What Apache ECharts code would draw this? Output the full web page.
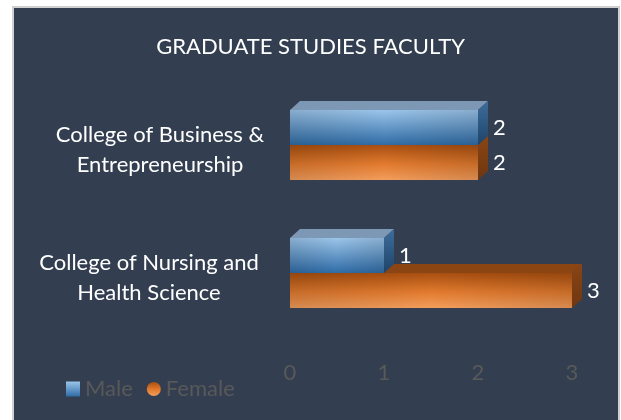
<!DOCTYPE html>
<html>
<head>
<meta charset="utf-8">
<style>
html, body { margin: 0; padding: 0; background: #ffffff; }
#chart { width: 621px; height: 420px; }
</style>
<script src="https://cdn.jsdelivr.net/npm/echarts@6/dist/echarts.min.js"></script>
</head>
<body>
<div id="chart"></div>
<script>
// data
var categories = ['College of Business &\nEntrepreneurship', 'College of Nursing and\nHealth Science'];
var maleValues = [2, 1];
var femaleValues = [2, 3];
var xTicks = [0, 1, 2, 3];

var BAR_H = 35, DX = 10, DY = 9;

function maleFront() {
	return new echarts.graphic.LinearGradient(0, 0, 0, 1, [
		{ offset: 0, color: '#9cc5ea' },
		{ offset: 1, color: '#2f6ca6' }
	]);
}
function femaleFront() {
	return new echarts.graphic.LinearGradient(0, 0, 0, 1, [
		{ offset: 0, color: '#a94f10' },
		{ offset: 0.55, color: '#e27b2f' },
		{ offset: 1, color: '#f39d5c' }
	]);
}

function makeRender(isMale) {
	return function (params, api) {
		var val = api.value(0);
		var cat = api.value(1);
		var base = api.coord([0, cat]);
		var end = api.coord([val, cat]);
		var y0 = isMale ? base[1] - BAR_H : base[1];
		var y1 = y0 + BAR_H;
		var x0 = base[0], x1 = end[0];
		var children = [
			{ // top face
				type: 'polygon',
				shape: { points: [[x0, y0], [x0 + DX, y0 - DY], [x1 + DX, y0 - DY], [x1, y0]] },
				style: { fill: isMale ? '#7d98b4' : '#8a4513' }
			},
			{ // side face
				type: 'polygon',
				shape: { points: [[x1, y0], [x1 + DX, y0 - DY], [x1 + DX, y1 - DY], [x1, y1]] },
				style: { fill: new echarts.graphic.LinearGradient(0, 0, 0, 1, isMale ? [
					{ offset: 0, color: '#3d6d9c' }, { offset: 1, color: '#1f4468' }
				] : [
					{ offset: 0, color: '#8a4514' }, { offset: 1, color: '#6e3610' }
				]) }
			},
			{ // front face
				type: 'rect',
				shape: { x: x0, y: y0, width: x1 - x0, height: BAR_H },
				style: { fill: isMale ? maleFront() : femaleFront() }
			},
			{ // darker ends of the front face
				type: 'rect',
				shape: { x: x0, y: y0, width: x1 - x0, height: BAR_H },
				style: { fill: new echarts.graphic.LinearGradient(0, 0, 1, 0, [
					{ offset: 0, color: 'rgba(0,0,0,0.12)' },
					{ offset: 0.5, color: 'rgba(0,0,0,0)' },
					{ offset: 1, color: 'rgba(0,0,0,0.12)' }
				]) }
			},
			{ // value label
				type: 'text',
				style: {
					x: x1 + DX + 5, y: (y0 + y1) / 2,
					text: String(val),
					fill: '#ffffff',
					font: '22px Lato',
					verticalAlign: 'middle',
					align: 'left'
				}
			}
		];
		return { type: 'group', children: children };
	};
}

function toData(vals) {
	var d = [];
	for (var i = 0; i < vals.length; i++) d.push([vals[i], i]);
	return d;
}

var myChart = echarts.init(document.getElementById('chart'));
var option = {
	backgroundColor: '#ffffff',
	animation: false,
	graphic: [{
		type: 'rect',
		z: -10,
		shape: { x: 13, y: 7, width: 606, height: 416 },
		style: { fill: '#333f50', stroke: '#d0d0d0', lineWidth: 2 }
	}],
	title: {
		text: 'GRADUATE STUDIES FACULTY',
		left: 'center',
		top: 31,
		textStyle: { color: '#ffffff', fontSize: 22, fontWeight: 'normal', fontFamily: 'Lato' }
	},
	legend: {
		left: 61,
		top: 373,
		itemWidth: 14,
		itemHeight: 15,
		itemGap: 14,
		textStyle: { color: '#595959', fontSize: 22, fontFamily: 'Lato' },
		data: [
			{ name: 'Male', icon: 'rect' },
			{ name: 'Female', icon: 'circle' }
		]
	},
	grid: { left: 290, right: 49, top: 81, bottom: 83 },
	xAxis: {
		type: 'value',
		min: 0,
		max: 3,
		interval: 1,
		axisLine: { show: false },
		axisTick: { show: false },
		splitLine: { show: false },
		axisLabel: {
			color: '#595959',
			fontSize: 22,
			fontFamily: 'Lato',
			margin: 25,
			formatter: function (v) { return xTicks.indexOf(v) >= 0 ? String(v) : ''; }
		}
	},
	yAxis: {
		type: 'category',
		inverse: true,
		data: categories,
		axisLine: { show: false },
		axisTick: { show: false },
		axisLabel: {
			color: '#ffffff',
			fontSize: 22,
			fontFamily: 'Lato',
			lineHeight: 30,
			align: 'center',
			padding: [10, 0, 0, 0],
			margin: 130,
			formatter: function (v, i) {
				var tag = i === 1 ? 'b' : 'a';
				return v.split('\n').map(function (s) { return '{' + tag + '|' + s + '}'; }).join('\n');
			},
			rich: {
				a: { color: '#ffffff', fontSize: 22, fontFamily: 'Lato', lineHeight: 30 },
				b: { color: '#ffffff', fontSize: 22, fontFamily: 'Lato', lineHeight: 30, padding: [0, 22, 0, 0] }
			}
		}
	},
	series: [
		{
			name: 'Female',
			type: 'custom',
			renderItem: makeRender(false),
			encode: { x: 0, y: 1 },
			itemStyle: { color: femaleFront() },
			data: toData(femaleValues),
			z: 2
		},
		{
			name: 'Male',
			type: 'custom',
			renderItem: makeRender(true),
			encode: { x: 0, y: 1 },
			itemStyle: { color: maleFront() },
			data: toData(maleValues),
			z: 3
		}
	]
};
myChart.setOption(option);
</script>
</body>
</html>
